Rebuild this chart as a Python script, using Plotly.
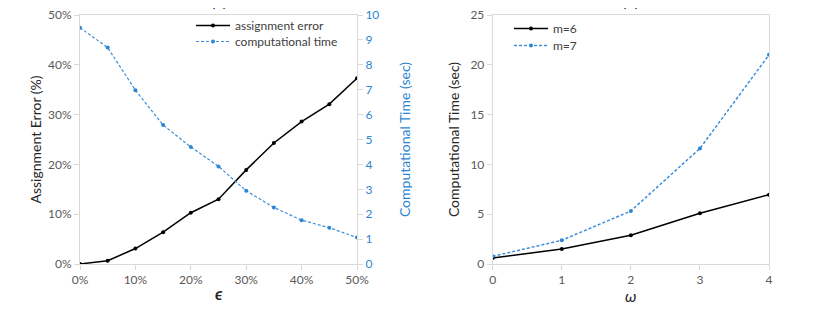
import plotly.graph_objects as go

eps = [0, 5, 10, 15, 20, 25, 30, 35, 40, 45, 50]
assign_err = [0.0, 0.66, 3.1, 6.4, 10.3, 13.0, 18.9, 24.3, 28.6, 32.1, 37.3]
comp_time_a = [9.49, 8.69, 6.98, 5.58, 4.70, 3.92, 2.94, 2.27, 1.76, 1.46, 1.06]

omega = [0, 1, 2, 3, 4]
m6 = [0.6, 1.5, 2.88, 5.09, 6.96]
m7 = [0.77, 2.38, 5.32, 11.6, 21.0]

x_ticks_a = [0, 10, 20, 30, 40, 50]
x_labels_a = ["0%", "10%", "20%", "30%", "40%", "50%"]
y_ticks_a = [0, 10, 20, 30, 40, 50]
y_labels_a = ["0%", "10%", "20%", "30%", "40%", "50%"]
y2_ticks_a = list(range(0, 11))
y_ticks_b = [0, 5, 10, 15, 20, 25]

BLACK = "#000000"
BLUE_LINE = "#3A8EDB"
BLUE_TEXT = "#2B86D3"
GRAY = "#D9D9D9"
TXT = "#595959"
FONT = "Lato"

W, H = 837, 311
OFF = 8  # page body margin


def lx(px):
    return (px - OFF) / W


def ly(py):
    return (H - (py - OFF)) / H


fig = go.Figure()
fig.add_trace(go.Scatter(x=eps, y=assign_err, name="assignment error", mode="lines+markers",
                         line=dict(color=BLACK, width=1.5), marker=dict(size=4, color=BLACK),
                         xaxis="x", yaxis="y", legend="legend", showlegend=True))
fig.add_trace(go.Scatter(x=eps, y=comp_time_a, name="computational time", mode="lines+markers",
                         line=dict(color=BLUE_LINE, width=1.2, dash="3px,2px"), marker=dict(size=4, color=BLUE_TEXT),
                         xaxis="x", yaxis="y2", legend="legend2", showlegend=True))
fig.add_trace(go.Scatter(x=omega, y=m6, name="m=6", mode="lines+markers",
                         line=dict(color=BLACK, width=1.5), marker=dict(size=4, color=BLACK),
                         xaxis="x2", yaxis="y3", legend="legend3", showlegend=True))
fig.add_trace(go.Scatter(x=omega, y=m7, name="m=7", mode="lines+markers",
                         line=dict(color=BLUE_LINE, width=1.5, dash="3px,2px"), marker=dict(size=4, color=BLUE_TEXT),
                         xaxis="x2", yaxis="y3", legend="legend4", showlegend=True))

xa = [lx(80), lx(357)]
xb = [lx(492.7), lx(769)]
yd = [ly(264), ly(15)]

axcommon = dict(showgrid=False, zeroline=False, showline=True, linecolor=GRAY, linewidth=1,
                ticks="outside", tickcolor=GRAY, ticklen=5, automargin=False,
                ticklabeloverflow="allow",
                tickfont=dict(family=FONT, size=12, color=TXT))

LEGFONT = dict(family=FONT, size=12, color="#404040")


def leg(px, py):
    return dict(x=lx(px - 6), y=ly(py - 14), xanchor="left", yanchor="top", bgcolor="rgba(0,0,0,0)",
                font=LEGFONT, itemwidth=34, borderwidth=0, visible=True)


fig.update_layout(
    width=W, height=H, margin=dict(l=0, r=0, t=0, b=0, autoexpand=False),
    paper_bgcolor="white", plot_bgcolor="white", showlegend=True,
    font=dict(family=FONT, color=TXT),
    xaxis=dict(domain=xa, range=[0, 50], tickvals=x_ticks_a, ticktext=x_labels_a, anchor="y",
               mirror=True, **axcommon),
    yaxis=dict(domain=yd, range=[0, 50], tickvals=y_ticks_a, ticktext=y_labels_a, anchor="x",
               title=dict(text="Assignment Error (%)", font=dict(size=14, color="#262626"), standoff=3),
               **axcommon),
    yaxis2=dict(domain=yd, range=[0, 10], tickvals=y2_ticks_a, overlaying="y", side="right", anchor="x",
                title=dict(text="Computational Time (sec)", font=dict(size=14, color=BLUE_TEXT), standoff=21),
                **{**axcommon, "tickfont": dict(family=FONT, size=12, color=BLUE_TEXT)}),
    xaxis2=dict(domain=xb, range=[0, 4], tickvals=omega, anchor="y3", mirror=True,
                **axcommon),
    yaxis3=dict(domain=yd, range=[0, 25], tickvals=y_ticks_b, anchor="x2", mirror=True,
                title=dict(text="Computational Time (sec)", font=dict(size=14, color="#262626"), standoff=7),
                **axcommon),
    legend=leg(197, 25),
    legend2=leg(197, 41),
    legend3=leg(515, 28),
    legend4=leg(515, 45),
    annotations=[
        dict(text="<b><i>ϵ</i></b>", x=(xa[0] + xa[1]) / 2, y=ly(293), xref="paper", yref="paper",
             xanchor="center", yanchor="middle", showarrow=False,
             font=dict(family=FONT, size=17, color="#262626")),
        dict(text="<i>ω</i>", x=(xb[0] + xb[1]) / 2, y=ly(295), xref="paper", yref="paper",
             xanchor="center", yanchor="middle", showarrow=False,
             font=dict(family=FONT, size=16, color="#262626")),
        dict(text="(a)", x=(xa[0] + xa[1]) / 2, y=1, xref="paper", yref="paper", xanchor="center",
             yanchor="bottom", yshift=-4, showarrow=False, font=dict(family=FONT, size=16, color="#262626")),
        dict(text="(b)", x=(xb[0] + xb[1]) / 2, y=1, xref="paper", yref="paper", xanchor="center",
             yanchor="bottom", yshift=-4, showarrow=False, font=dict(family=FONT, size=16, color="#262626")),
    ],
)

fig.write_html("out.html")
